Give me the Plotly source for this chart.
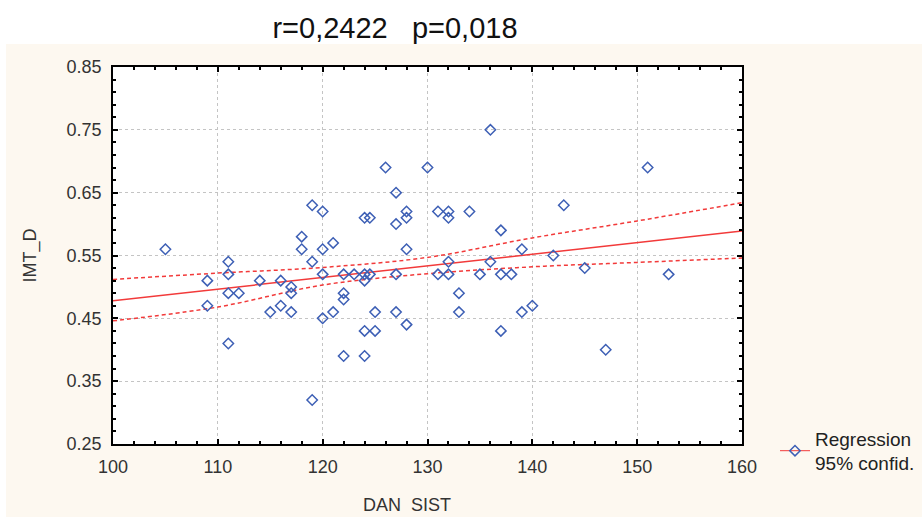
import plotly.graph_objects as go

# scatter data (DAN SIST vs IMT_D)
dan_sist = [105, 109, 109, 111, 111, 111, 111, 112, 114, 115, 116, 116, 117, 117, 117,
            118, 118, 119, 119, 119, 120, 120, 120, 120, 121, 121, 122, 122, 122, 122,
            123, 124, 124, 124, 124, 124, 124.5, 124.5, 125, 125, 126, 127, 127, 127, 127,
            128, 128, 128, 128, 130, 131, 131, 132, 132, 132, 132, 133, 133, 134, 135,
            136, 136, 137, 137, 137, 138, 139, 139, 140, 142, 143, 145, 147, 151, 153]
imt_d = [0.56, 0.51, 0.47, 0.54, 0.52, 0.49, 0.41, 0.49, 0.51, 0.46, 0.51, 0.47, 0.50, 0.49, 0.46,
         0.58, 0.56, 0.63, 0.54, 0.32, 0.62, 0.56, 0.52, 0.45, 0.57, 0.46, 0.52, 0.49, 0.48, 0.39,
         0.52, 0.61, 0.52, 0.51, 0.43, 0.39, 0.61, 0.52, 0.46, 0.43, 0.69, 0.65, 0.60, 0.52, 0.46,
         0.62, 0.61, 0.56, 0.44, 0.69, 0.62, 0.52, 0.62, 0.61, 0.54, 0.52, 0.49, 0.46, 0.62, 0.52,
         0.75, 0.54, 0.59, 0.52, 0.43, 0.52, 0.56, 0.46, 0.47, 0.55, 0.63, 0.53, 0.40, 0.69, 0.52]

# regression line and 95% band
reg_x = [100, 160]
reg_y = [0.478, 0.589]
band_x = [100, 110, 120, 130, 140, 150, 160]
band_hi = [0.512, 0.522, 0.531, 0.547, 0.578, 0.605, 0.634]
band_lo = [0.446, 0.468, 0.503, 0.521, 0.532, 0.539, 0.546]

title_text = "r=0,2422\u00a0\u00a0\u00a0p=0,018"
x_ticks = [100, 110, 120, 130, 140, 150, 160]
y_ticks = [0.25, 0.35, 0.45, 0.55, 0.65, 0.75, 0.85]

RED = "#f23a3a"
BLUE = "#3d5fb5"
BEIGE = "#fdf8f0"
FONT = "Liberation Sans, Arial, sans-serif"

fig = go.Figure()

fig.add_trace(go.Scatter(x=band_x, y=band_hi, mode="lines", line=dict(color=RED, width=1.5, dash="4px,3px", shape="spline"),
                         showlegend=False, hoverinfo="skip"))
fig.add_trace(go.Scatter(x=band_x, y=band_lo, mode="lines", line=dict(color=RED, width=1.5, dash="4px,3px", shape="spline"),
                         showlegend=False, hoverinfo="skip"))
fig.add_trace(go.Scatter(x=reg_x, y=reg_y, mode="lines", line=dict(color=RED, width=1.5), showlegend=False))
fig.add_trace(go.Scatter(x=dan_sist, y=imt_d, mode="markers",
                         marker=dict(symbol="diamond-open", size=8, color=BLUE, line=dict(width=1.5, color=BLUE)),
                         showlegend=False))
# legend entry only
fig.add_trace(go.Scatter(x=[None], y=[None], mode="lines+markers", name="Regression<br>95% confid.",
                         line=dict(color=RED, width=1),
                         marker=dict(symbol="diamond-open", size=8, color=BLUE, line=dict(width=1.5, color=BLUE))))

axis_common = dict(
    showline=True, linecolor="black", linewidth=1.5, mirror="ticks",
    ticks="inside", ticklen=5, tickwidth=1.5, tickcolor="black",
    showgrid=True, gridcolor="#c4c4c4", griddash="dot", gridwidth=1,
    zeroline=False, tickfont=dict(family=FONT, size=18, color="#333333"),
    ticklabelstandoff=6, automargin=False,
)

fig.update_layout(
    width=922, height=517,
    margin=dict(l=113, r=180, t=67, b=73, autoexpand=False),
    paper_bgcolor=BEIGE, plot_bgcolor="white",
    font=dict(family=FONT, color="#333333"),
    title=dict(text=title_text, x=395 / 922, xanchor="center", y=1 - 28 / 517, yanchor="middle",
               font=dict(family=FONT, size=29, color="#111111")),
    xaxis=dict(range=[100, 160], tickvals=x_ticks, minor=dict(dtick=2, tick0=100, ticks="inside", ticklen=3,
               tickcolor="black", showgrid=False),
               **axis_common),
    yaxis=dict(range=[0.25, 0.85], tickvals=y_ticks, tickformat=".2f",
               minor=dict(dtick=0.02, tick0=0.25, ticks="inside", ticklen=3, tickcolor="black", showgrid=False),
               title=dict(text="IMT_D", font=dict(family=FONT, size=18, color="#333333"), standoff=25),
               **axis_common),
    # x title sits left of the plot centre in the original
    annotations=[dict(text="DAN\u00a0\u00a0SIST", xref="paper", yref="paper", x=(407 - 113) / 629,
                      y=-(505 - 444) / 377, xanchor="center", yanchor="middle", showarrow=False,
                      font=dict(family=FONT, size=18, color="#333333"))],
    legend=dict(x=(775 - 113) / 629, y=(444 - 451) / 377, xanchor="left", yanchor="middle",
                bgcolor="rgba(0,0,0,0)", font=dict(family=FONT, size=19, color="#222222"),
                itemwidth=30, tracegroupgap=0),
    shapes=[
        # white strip behind the title and at the left edge
        dict(type="rect", xref="paper", yref="paper", x0=-113 / 629, x1=809 / 629,
             y0=(444 - 44) / 377, y1=444 / 377, fillcolor="white", line=dict(width=0), layer="below"),
        dict(type="rect", xref="paper", yref="paper", x0=-113 / 629, x1=-107 / 629,
             y0=-73 / 377, y1=444 / 377, fillcolor="white", line=dict(width=0), layer="below"),
    ],
)

fig.write_html("out.html", config={"displayModeBar": False},
               post_script="document.body.style.margin='0';")
